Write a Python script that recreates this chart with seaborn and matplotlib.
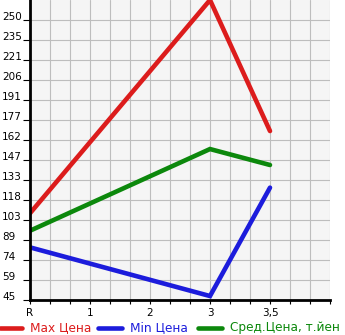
import numpy as np
import pandas as pd
import seaborn as sns
import matplotlib
matplotlib.use("Agg")
import matplotlib.pyplot as plt
from matplotlib.lines import Line2D

# ---- data ----
x_labels = ["R", "1", "2", "3", "3,5"]
point_cats = ["R", "3", "3,5"]
max_price = [108.6, 265.0, 168.9]
min_price = [83.6, 47.9, 127.4]
avg_price = [95.8, 155.7, 144.0]
series_names = ["Max Цена", "Min Цена", "Сред.Цена, т.йен"]
y_min, y_max = 45, 265

colors = {"Max Цена": "#dc1c1c", "Min Цена": "#1c1cdc", "Сред.Цена, т.йен": "#0c880c"}

pos = {c: i for i, c in enumerate(x_labels)}
rows = []
for name, vals in zip(series_names, [max_price, min_price, avg_price]):
    for c, v in zip(point_cats, vals):
        rows.append({"x": pos[c], "y": v, "series": name})
df = pd.DataFrame(rows)

sns.set_style("white")
plt.rcParams['font.family'] = ['DejaVu Sans']

W, H = 345, 335
fig = plt.figure(figsize=(W / 100, H / 100), dpi=100)
ax = fig.add_axes([30 / W, (H - 300) / H, 300 / W, 300 / H])
ax.set_facecolor("#f5f5f5")

sns.lineplot(data=df, x="x", y="y", hue="series", palette=colors,
             linewidth=3.3, ax=ax, legend=False, sort=False)
for ln in ax.lines:
    ln.set_solid_capstyle("round")
    ln.set_solid_joinstyle("miter")
    ln.set_clip_on(True)

ax.set_xlim(0, 5)
ax.set_ylim(y_min, y_max)

# grid
ax.set_xticks(np.arange(0, 5.01, 1 / 3), minor=True)
ax.set_xticks(range(len(x_labels)))
ax.set_xticklabels(x_labels, fontsize=7.5, color="black")
yt = np.linspace(y_min, y_max, 16)[:-1]
ax.set_yticks(yt)
ax.set_yticklabels([str(int(v + 1e-6)) for v in yt], fontsize=7.5, color="black")
ax.grid(True, which="both", color="#bdbdbd", linewidth=0.8)
ax.set_axisbelow(True)

for s in ["top", "right"]:
    ax.spines[s].set_visible(False)
for s in ["left", "bottom"]:
    ax.spines[s].set_color("black")
    ax.spines[s].set_linewidth(2.0)

ax.tick_params(axis="y", which="major", length=5, width=0.8, color="black",
               pad=15, left=True)
for lbl in ax.get_yticklabels():
    lbl.set_ha("left")
    lbl.set_va("baseline")
ax.tick_params(axis="x", which="both", length=3, width=0.8, color="black",
               pad=3, bottom=True)
ax.set_xlabel("")
ax.set_ylabel("")

# legend (manual, bottom row)
ly = (H - 328) / H
legend_items = [(0, 22, 30, "Max Цена"), (98, 122, 130, "Min Цена"),
                (198, 222, 230, "Сред.Цена, т.йен")]
for x0, x1, xt, name in legend_items:
    fig.add_artist(Line2D([x0 / W, x1 / W], [ly, ly], color=colors[name],
                          linewidth=3.3, solid_capstyle="round",
                          transform=fig.transFigure))
    fig.text(xt / W, ly, name, color=colors[name], fontsize=8.7,
             ha="left", va="center")

fig.savefig("out.png", dpi=100)
